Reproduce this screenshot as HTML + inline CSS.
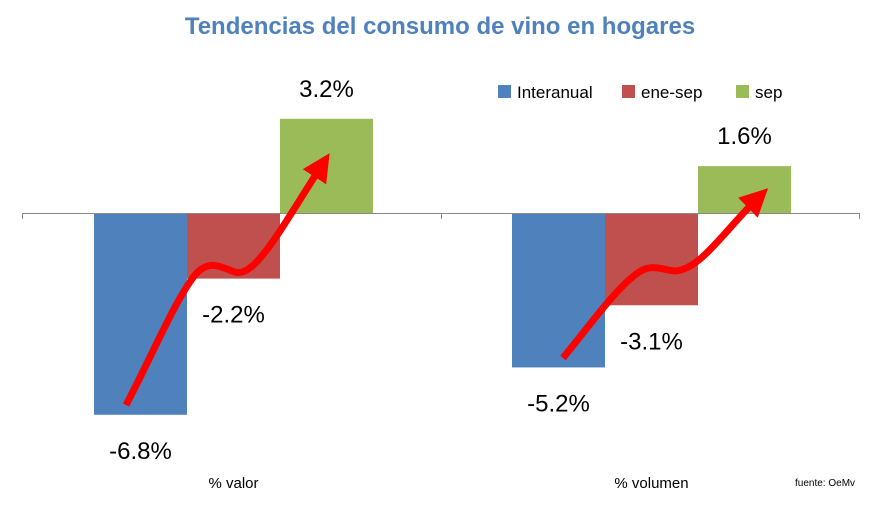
<!DOCTYPE html>
<html><head><meta charset="utf-8"><style>
body{margin:0;background:#fff;}
svg{display:block;font-family:"Liberation Sans",sans-serif;}
</style></head><body>
<svg id="chart" width="881" height="514" viewBox="0 0 881 514">
<text x="440" y="34" text-anchor="middle" font-size="24" font-weight="bold" fill="#4F81BD">Tendencias del consumo de vino en hogares</text>
<g id="legend"></g>
<g id="bars"></g>
<line x1="22" y1="213.5" x2="860" y2="213.5" stroke="#888" stroke-width="1"/>
<line x1="22.5" y1="213" x2="22.5" y2="219" stroke="#888"/>
<line x1="441.5" y1="213" x2="441.5" y2="219" stroke="#888"/>
<line x1="859.5" y1="213" x2="859.5" y2="219" stroke="#888"/>
<g id="labels"></g>
<defs><marker id="ah" markerWidth="4" markerHeight="4" refX="2" refY="2" orient="auto"><path d="M0,0 L4,2 L0,4 Z" fill="#FF0000"/></marker></defs>
<path d="M126,405 C150,360 175,300 195,275 C210,258 222,268 235,272 C255,278 280,230 322,165" fill="none" stroke="#FF0000" stroke-width="7" marker-end="url(#ah)"/>
<path d="M563,358 C590,325 615,290 635,275 C650,262 662,270 675,271 C700,270 725,230 758,198" fill="none" stroke="#FF0000" stroke-width="7" marker-end="url(#ah)"/>
<text x="795" y="486" font-size="10" fill="#000">fuente: OeMv</text>
</svg>
<script>
const categories=["% valor","% volumen"];
const seriesNames=["Interanual","ene-sep","sep"];
const interanual=[-6.8,-5.2];
const eneSep=[-2.2,-3.1];
const sep=[3.2,1.6];
const colors=["#4F81BD","#C0504D","#9BBB59"];
const series=[interanual,eneSep,sep];
const NS="http://www.w3.org/2000/svg";
const zeroY=213.5, pxPer=29.6;
const y=v=>zeroY-v*pxPer;
const groupX=[94,512], barW=93;
const bars=document.getElementById('bars'), labels=document.getElementById('labels'), legend=document.getElementById('legend');
function mk(t,a,p){const e=document.createElementNS(NS,t);for(const k in a)e.setAttribute(k,a[k]);p.appendChild(e);return e;}
categories.forEach((c,ci)=>{
  series.forEach((s,si)=>{
    const v=s[ci], x=groupX[ci]+si*barW;
    const r=mk('rect',{x:x,y:Math.min(y(v),zeroY),width:barW,height:Math.abs(v)*pxPer,fill:colors[si]},bars);
    
    
    const ly=v>=0? y(v)-22 : y(v)+44;
    const t=mk('text',{x:x+barW/2,y:ly,'text-anchor':'middle','font-size':24,fill:'#000'},labels);
    t.textContent=(v>0?'':'')+v.toFixed(1)+'%';
    
    
  });
  const ct=mk('text',{x:groupX[ci]+barW*1.5,y:488,'text-anchor':'middle','font-size':15,fill:'#000'},labels);
  ct.textContent=c;
  
  
});
const legX=[498,622,736];
seriesNames.forEach((n,i)=>{
  const r=mk('rect',{x:legX[i],y:85,width:13,height:13,fill:colors[i]},legend);
  
  
  const t=mk('text',{x:legX[i]+19,y:98,'font-size':17,fill:'#000'},legend);
  t.textContent=n;
  
  
});
</script>
</body></html>
